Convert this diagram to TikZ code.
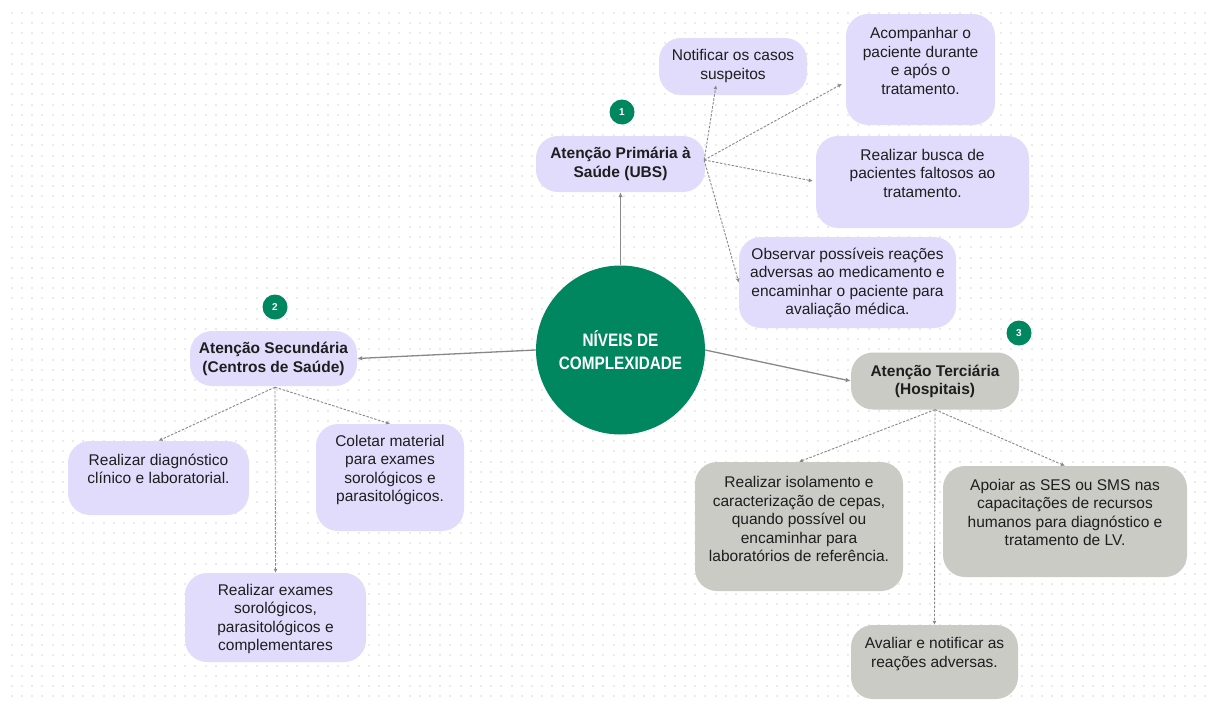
\documentclass[tikz,border=0pt]{standalone}
\usepackage{fontspec}
\setmainfont{Liberation Sans}
\newfontfamily\condfont[FakeStretch=0.85]{Liberation Sans}
\usetikzlibrary{arrows.meta,calc}
\definecolor{lav}{HTML}{E1DCFB}
\definecolor{tgray}{HTML}{C9CBC4}
\definecolor{dgreen}{HTML}{00875F}
\definecolor{txt}{HTML}{1E1E1E}
\definecolor{conn}{HTML}{888888}
\definecolor{dotc}{HTML}{EBEBEB}
\begin{document}
\begin{tikzpicture}[x=1pt,y=-1pt,
  font=\fontsize{15.5}{18.5}\selectfont,
  box/.style={fill=lav, rounded corners=22pt, inner sep=0pt},
  tbox/.style={box, fill=tgray},
  tx/.style={align=center, inner sep=0pt, text=txt},
  head/.style={tx, font=\fontsize{15.5}{18.5}\selectfont\bfseries},
  badge/.style={circle, fill=dgreen, minimum size=25pt, inner sep=0pt, text=white, font=\fontsize{10}{10}\selectfont\bfseries},
  solidarr/.style={draw=conn, line width=1.3pt, -{Latex[length=5pt,width=4.5pt]}},
  dasharr/.style={draw=conn, line width=0.9pt, dash pattern=on 2.5pt off 1.5pt, -{Latex[length=4pt,width=4pt]}}]
\useasboundingbox (0,0) rectangle (1210,704);
\fill[white] (0,0) rectangle (1210,704);
\foreach \k in {0,...,68}
  \draw[dotc, line width=2pt, dash pattern=on 2pt off 8.2pt] (10.7,{12.7+10.2*\k}) -- (1210,{12.7+10.2*\k});

% central circle
\node[circle, fill=dgreen, minimum size=169pt, inner sep=0pt, text=white, align=center,
  font=\condfont\fontsize{18}{23}\selectfont\bfseries] (core) at (620.5,350) {NÍVEIS DE\\COMPLEXIDADE};

% primary
\node[box, minimum width=169, minimum height=56] (prim) at (620.5,164) {};
\node[head] (primT) at (620.5,164) {Atenção Primária à\\Saúde (UBS)};
\node[badge] (b1) at (622,112) {1};
\node[box, minimum width=148, minimum height=57] (notif) at (733,66.5) {};
\node[tx] (notifT) at (733,66) {Notificar os casos\\suspeitos};
\node[box, minimum width=149, minimum height=111] (acomp) at (920.5,69.5) {};
\node[tx] (acompT) at (920.5,61) {Acompanhar o\\paciente durante\\e após o\\tratamento.};
\node[box, minimum width=213, minimum height=92] (busca) at (922.5,182) {};
\node[tx] (buscaT) at (922.5,173) {Realizar busca de\\pacientes faltosos ao\\tratamento.};
\node[box, minimum width=217, minimum height=91] (obs) at (847.5,282.5) {};
\node[tx] (obsT) at (847.5,283) {Observar possíveis reações\\adversas ao medicamento e\\encaminhar o paciente para\\avaliação médica.};

% secondary
\node[box, minimum width=167, minimum height=55] (sec) at (273.5,358.5) {};
\node[head] (secT) at (273.5,359) {Atenção Secundária\\(Centros de Saúde)};
\node[badge] (b2) at (275,307) {2};
\node[box, minimum width=181, minimum height=74] (diag) at (158.5,478) {};
\node[tx] (diagT) at (158.5,469) {Realizar diagnóstico\\clínico e laboratorial.};
\node[box, minimum width=148, minimum height=107] (col) at (390,477.5) {};
\node[tx] (colT) at (390,470) {Coletar material\\para exames\\sorológicos e\\parasitológicos.};
\node[box, minimum width=181, minimum height=89] (exa) at (275.5,617.5) {};
\node[tx] (exaT) at (275.5,619) {Realizar exames\\sorológicos,\\parasitológicos e\\complementares};

% tertiary
\node[tbox, minimum width=168, minimum height=57] (ter) at (935,381) {};
\node[head] (terT) at (935,381.5) {Atenção Terciária\\(Hospitais)};
\node[badge] (b3) at (1019,333) {3};
\node[tbox, minimum width=208, minimum height=129] (iso) at (799,526.5) {};
\node[tx] (isoT) at (799,519) {Realizar isolamento e\\caracterização de cepas,\\quando possível ou\\encaminhar para\\laboratórios de referência.};
\node[tbox, minimum width=244, minimum height=111] (apo) at (1065,521.5) {};
\node[tx] (apoT) at (1065,512.5) {Apoiar as SES ou SMS nas\\capacitações de recursos\\humanos para diagnóstico e\\tratamento de LV.};
\node[tbox, minimum width=167, minimum height=74] (ava) at (934.5,662) {};
\node[tx] (avaT) at (934.5,654) {Avaliar e notificar as\\reações adversas.};

% solid connectors
\draw[solidarr] (core.north) -- (prim.south);
\draw[solidarr] (core.west) -- (sec.east);
\draw[solidarr] (core.east) -- (ter.west);

% dashed connectors
\coordinate (ps) at ($(prim.east)+(-1,-4)$);
\draw[dasharr] (ps) -- ($(notif.south)+(-17,-10)$);
\draw[dasharr] (ps) -- ($(acomp.west)+(-4,14.5)$);
\draw[dasharr] (ps) -- ($(busca.west)+(-3,-1)$);
\draw[dasharr] (ps) -- (obs.west);
\coordinate (ss) at ($(sec.south)+(1.5,1)$);
\draw[dasharr] (ss) -- (diag.north);
\draw[dasharr] (ss) -- (col.north);
\draw[dasharr] (ss) -- (exa.north);
\draw[dasharr] (ter.south) -- (iso.north);
\draw[dasharr] (ter.south) -- (apo.north);
\draw[dasharr] (ter.south) -- (ava.north);
\end{tikzpicture}
\end{document}
